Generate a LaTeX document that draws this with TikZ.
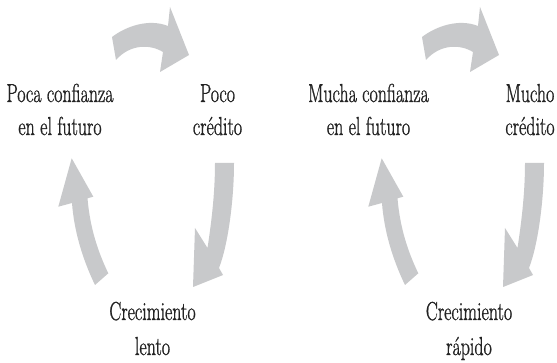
\documentclass[tikz,border=0pt]{standalone}
\usepackage{graphicx}
\usepackage{fontspec}
\newfontfamily\lblfont{Latin Modern Roman}[FakeBold=1.2]
\definecolor{arrowgray}{RGB}{200,201,203}
\definecolor{inkgray}{RGB}{35,35,35}
\tikzset{
  blockarrow/.style={fill=arrowgray, draw=none},
  lbl/.style={inner sep=0pt, anchor=base, text=inkgray, font=\lblfont\fontsize{26}{33}\selectfont},
  cyclearrows/.pic={
    % top arrow
    \fill[blockarrow] (112,37) .. controls (125,27) and (148,18) .. (168,26)
      -- (170,7) -- (189,55) -- (160,72) -- (163,52)
      .. controls (150,44) and (130,44) .. (116,60) -- cycle;
    % right arrow
    \fill[blockarrow] (215,163) -- (234,163)
      .. controls (234,200) and (228,245) .. (219,268)
      -- (223,275) -- (193,287) -- (195,228) -- (207.5,248)
      .. controls (211,225) and (215,195) .. (215,163) -- cycle;
    % left arrow
    \fill[blockarrow] (95,285) .. controls (82,258) and (74,230) .. (72,203)
      -- (58.3,206.7) -- (71.7,158.3) -- (93.3,196.7) -- (87.5,198.3)
      .. controls (90,228) and (98,252) .. (108.3,273.3) -- cycle;
  }
}
\newcommand{\twolines}[3][0pt]{\scalebox{0.69}[1]{\begin{tabular}[t]{@{}c@{}}#2\\[#1]#3\end{tabular}}}
\begin{document}
\begin{tikzpicture}[x=1pt,y=-1pt]
  \fill[white] (0,0) rectangle (557,363);
  \path[use as bounding box] (0,0) rectangle (557,363);
  \pic at (0,0) {cyclearrows};
  \pic at (310,0) {cyclearrows};
  % left cycle
  \node[lbl] (poca)  at (60,102)    {\twolines{Poca confianza}{en el futuro}};
  \node[lbl] (poco)  at (217.5,102) {\twolines{Poco}{crédito}};
  \node[lbl] (lento) at (152.5,320) {\twolines[2pt]{Crecimiento}{lento}};
  % right cycle
  \node[lbl] (mucha)  at (368.5,102) {\twolines{Mucha confianza}{en el futuro}};
  \node[lbl] (mucho)  at (530,102)   {\twolines{Mucho}{crédito}};
  \node[lbl] (rapido) at (469,320)   {\twolines[2pt]{Crecimiento}{rápido}};
\end{tikzpicture}
\end{document}
